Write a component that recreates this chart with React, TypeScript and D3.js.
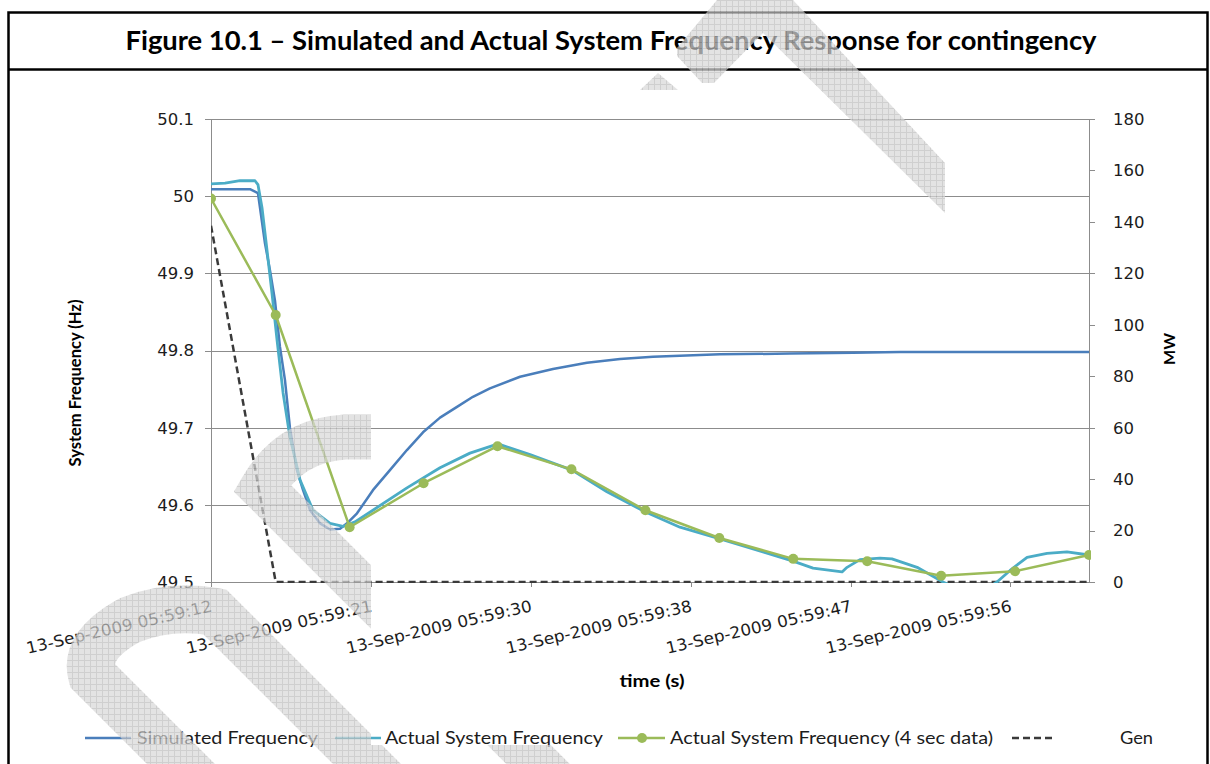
import React from "react";
import * as d3 from "d3";

// ---------- data ----------
const simTime = [0, 2.11, 2.54, 2.92, 3.19, 3.46, 3.73, 4.0, 4.27, 4.65, 4.98, 5.36, 5.9, 6.44, 6.98, 7.36, 7.9, 8.76, 9.68, 10.6, 11.47, 12.39, 13.31, 14.17, 15.09, 16.72, 18.5, 20.34, 22.13, 23.91, 27.54, 31.32, 34.73, 37.28, 47.5];
const simFreq = [50.009, 50.009, 50.004, 49.939, 49.904, 49.865, 49.805, 49.762, 49.7, 49.645, 49.619, 49.593, 49.576, 49.568, 49.569, 49.576, 49.589, 49.619, 49.645, 49.671, 49.694, 49.713, 49.727, 49.74, 49.751, 49.766, 49.776, 49.784, 49.789, 49.792, 49.795, 49.796, 49.797, 49.798, 49.798];

const actTime = [0, 0.76, 1.57, 2.38, 2.54, 2.76, 3.03, 3.3, 3.57, 3.9, 4.27, 4.82, 5.52, 6.44, 7.14, 7.79, 8.76, 10.6, 12.39, 14.01, 15.53, 17.26, 19.53, 21.42, 23.48, 25.37, 27.54, 29.86, 31.49, 32.57, 34.14, 34.41, 35.11, 36.19, 36.84, 38.2, 39.6, 40.52, 41.87, 42.52, 43.23, 44.15, 45.23, 46.31, 47.5];
const actFreq = [50.016, 50.017, 50.02, 50.02, 50.015, 49.985, 49.93, 49.874, 49.814, 49.745, 49.688, 49.632, 49.593, 49.576, 49.572, 49.578, 49.593, 49.622, 49.648, 49.667, 49.679, 49.665, 49.645, 49.617, 49.591, 49.571, 49.556, 49.539, 49.527, 49.518, 49.513, 49.519, 49.529, 49.531, 49.53, 49.519, 49.5, 49.49, 49.49, 49.5, 49.515, 49.532, 49.537, 49.539, 49.535];

const fourSecTime = [0, 3.5, 7.5, 11.5, 15.5, 19.5, 23.5, 27.5, 31.5, 35.5, 39.5, 43.5, 47.5];
const fourSecFreq = [49.997, 49.846, 49.571, 49.628, 49.676, 49.646, 49.593, 49.557, 49.53, 49.527, 49.508, 49.514, 49.535];

const genTime = [0, 3.5, 47.5];
const genMW = [138.5, 0, 0];

const xTickSeconds = [0, 8.65, 17.3, 25.95, 34.6, 43.25];
const xTickLabels = [
  "13-Sep-2009 05:59:12",
  "13-Sep-2009 05:59:21",
  "13-Sep-2009 05:59:30",
  "13-Sep-2009 05:59:38",
  "13-Sep-2009 05:59:47",
  "13-Sep-2009 05:59:56",
];
const leftTicks = [49.5, 49.6, 49.7, 49.8, 49.9, 50.0, 50.1];
const leftTickLabels = ["49.5", "49.6", "49.7", "49.8", "49.9", "50", "50.1"];
const rightTicks = [0, 20, 40, 60, 80, 100, 120, 140, 160, 180];

const legendNames = [
  "Simulated Frequency",
  "Actual System Frequency",
  "Actual System Frequency (4 sec data)",
  "Gen",
];

// ---------- layout ----------
const W = 1210;
const H = 764;
const PL = 211, PR = 1089, PT = 119, PB = 582;

const C_SIM = "#4A7EBB";
const C_ACT = "#4BACC6";
const C_GRN = "#9BBB59";
const C_GEN = "#3a3a3a";
const TXT = "#1c1c1c";

export default function App() {
  const x = d3.scaleLinear().domain([0, 47.5]).range([PL, PR]);
  const yL = d3.scaleLinear().domain([49.5, 50.1]).range([PB, PT]);
  const yR = d3.scaleLinear().domain([0, 180]).range([PB, PT]);

  const freqLine = d3.line<[number, number]>().x((d) => x(d[0])).y((d) => yL(d[1]));
  const mwLine = d3.line<[number, number]>().x((d) => x(d[0])).y((d) => yR(d[1]));
  const simPath = freqLine(simTime.map((t, i) => [t, simFreq[i]]));
  const actPath = freqLine(actTime.map((t, i) => [t, actFreq[i]]));
  const grnPts = fourSecTime.map((t, i) => [t, fourSecFreq[i]] as [number, number]);
  const grnPath = freqLine(grnPts);
  const genPath = mwLine(genTime.map((t, i) => [t, genMW[i]]));

  const legendY = 738;
  const font = "Lato, 'Open Sans', sans-serif";
  const tickFont = "'DejaVu Sans', Verdana, sans-serif";

  return (
    <svg width={W} height={H} style={{ position: "absolute", left: 0, top: 0, background: "#fff" }}>
      <defs>
        <pattern id="hatch" width="6" height="6" patternUnits="userSpaceOnUse">
          <rect width="6" height="6" fill="#d9d9d9" />
          <path d="M0 0.5 H6 M0.5 0 V6" stroke="#bdbdbd" strokeWidth="1" />
        </pattern>
        <clipPath id="plotClip">
          <rect x={PL} y={PT - 10} width={PR - PL + 2} height={PB - PT + 11} />
        </clipPath>
        <clipPath id="wmClip">
          <rect x={0} y={0} width={371} height={H} />
          <rect x={371} y={745} width={W - 371} height={H - 745} />
        </clipPath>
      </defs>

      <rect x={0} y={0} width={W} height={H} fill="#fff" />

      {/* frame */}
      <rect x={8.5} y={12.5} width={1199} height={H + 20} fill="none" stroke="#000" strokeWidth={2.5} />
      <line x1={8} x2={1208} y1={69.5} y2={69.5} stroke="#000" strokeWidth={2.5} />
      <text x={611} y={50} textAnchor="middle" fontFamily={font} fontWeight="bold" fontSize={26} fill="#000" textLength={971} lengthAdjust="spacingAndGlyphs">
        Figure 10.1 – Simulated and Actual System Frequency Response for contingency
      </text>

      {/* gridlines */}
      {leftTicks.map((v) => (
        <line key={"g" + v} x1={PL} x2={PR} y1={Math.round(yL(v)) + 0.5} y2={Math.round(yL(v)) + 0.5} stroke="#8c8c8c" strokeWidth={1} />
      ))}
      {/* left axis */}
      <line x1={PL + 0.5} x2={PL + 0.5} y1={PT} y2={PB} stroke="#8c8c8c" />
      {leftTicks.map((v, i) => (
        <g key={"lt" + v}>
          <line x1={PL - 6} x2={PL} y1={Math.round(yL(v)) + 0.5} y2={Math.round(yL(v)) + 0.5} stroke="#8c8c8c" />
          <text x={194} y={yL(v)} dy="0.36em" textAnchor="end" fontFamily={tickFont} fontSize={16.5} fill={TXT}>
            {leftTickLabels[i]}
          </text>
        </g>
      ))}
      {/* right axis */}
      <line x1={PR + 0.5} x2={PR + 0.5} y1={PT} y2={PB} stroke="#8c8c8c" />
      {rightTicks.map((v) => (
        <g key={"rt" + v}>
          <line x1={PR} x2={PR + 6} y1={Math.round(yR(v)) + 0.5} y2={Math.round(yR(v)) + 0.5} stroke="#8c8c8c" />
          <text x={1113} y={yR(v)} dy="0.36em" textAnchor="start" fontFamily={tickFont} fontSize={16.5} fill={TXT}>
            {v}
          </text>
        </g>
      ))}
      {/* bottom axis */}
      <line x1={PL} x2={PR} y1={PB + 0.5} y2={PB + 0.5} stroke="#8c8c8c" />
      {xTickSeconds.map((t, i) => (
        <g key={"xt" + i}>
          <line x1={Math.round(x(t)) + 0.5} x2={Math.round(x(t)) + 0.5} y1={PB} y2={PB + 5} stroke="#8c8c8c" />
          <text
            transform={`translate(${x(t) + 2},${611}) rotate(-13)`}
            textAnchor="end"
            fontFamily={tickFont}
            fontSize={16}
            fill={TXT}
            textLength={190}
            lengthAdjust="spacingAndGlyphs"
          >
            {xTickLabels[i]}
          </text>
        </g>
      ))}

      {/* axis titles */}
      <text transform="translate(81,383) rotate(-90)" textAnchor="middle" fontFamily={font} fontWeight="bold" fontSize={17} fill="#000" textLength={167} lengthAdjust="spacingAndGlyphs">
        System Frequency (Hz)
      </text>
      <text transform="translate(1175,349) rotate(-90)" textAnchor="middle" fontFamily={font} fontWeight="bold" fontSize={16} fill="#000">
        MW
      </text>
      <text x={652} y={687} textAnchor="middle" fontFamily={font} fontWeight="bold" fontSize={17} fill="#000" textLength={65} lengthAdjust="spacingAndGlyphs">
        time (s)
      </text>

      {/* series */}
      <g clipPath="url(#plotClip)" fill="none" strokeLinejoin="round">
        <path d={genPath || ""} stroke={C_GEN} strokeWidth={2.5} strokeDasharray="7,4" />
        <path d={simPath || ""} stroke={C_SIM} strokeWidth={2.5} />
        <path d={actPath || ""} stroke={C_ACT} strokeWidth={2.8} />
        <path d={grnPath || ""} stroke={C_GRN} strokeWidth={2.5} />
        {grnPts.map((d, i) => (
          <circle key={"m" + i} cx={x(d[0])} cy={yL(d[1])} r={5} fill={C_GRN} />
        ))}
      </g>

      {/* legend */}
      <g fontFamily={font} fontSize={17} fill={TXT}>
        <line x1={85} x2={131} y1={legendY} y2={legendY} stroke={C_SIM} strokeWidth={2.5} />
        <text x={137} y={legendY} dy="0.35em" textLength={181} lengthAdjust="spacingAndGlyphs">{legendNames[0]}</text>
        <line x1={335} x2={381} y1={legendY} y2={legendY} stroke={C_ACT} strokeWidth={2.5} />
        <text x={385} y={legendY} dy="0.35em" textLength={218} lengthAdjust="spacingAndGlyphs">{legendNames[1]}</text>
        <line x1={618} x2={665} y1={legendY} y2={legendY} stroke={C_GRN} strokeWidth={2.5} />
        <circle cx={642} cy={legendY} r={5} fill={C_GRN} />
        <text x={670} y={legendY} dy="0.35em" textLength={323} lengthAdjust="spacingAndGlyphs">{legendNames[2]}</text>
        <line x1={1012} x2={1052} y1={legendY} y2={legendY} stroke={C_GEN} strokeWidth={2.5} strokeDasharray="7,4" />
        <text x={1120} y={legendY} dy="0.35em" textLength={33} lengthAdjust="spacingAndGlyphs">{legendNames[3]}</text>
      </g>

      {/* watermark (decorative) */}
      <g opacity={0.72}>
        <polygon
          points="717,0 793,0 945,163 945,213 763,33 714,83 702,83 677,56 677,48"
          fill="url(#hatch)"
        />
        <polygon points="640,90 658,73 678,90" fill="url(#hatch)" />
        <g clipPath="url(#wmClip)" fill="none" stroke="url(#hatch)" strokeWidth={45}>
          <path d="M 400 437 L 345 437 Q 290 440 262 488 L 600 826" />
          <path d="M 200 783 L 92 675 Q 84 645 130 620 Q 170 604 215 612 L 420 817" strokeWidth={48} />
        </g>
      </g>
    </svg>
  );
}
